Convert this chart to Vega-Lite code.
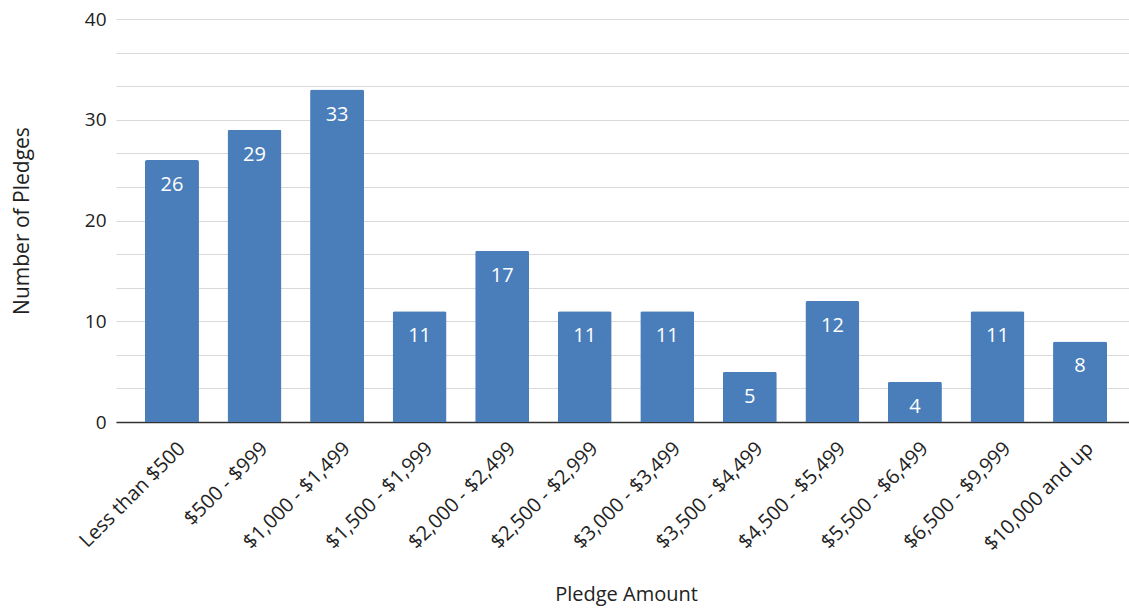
{
  "$schema": "https://vega.github.io/schema/vega-lite/v6.json",
  "width": 1020,
  "height": 403,
  "autosize": "none",
  "padding": {"left": 116, "top": 19, "right": 0, "bottom": 189},
  "background": "white",
  "config": {
    "view": {"stroke": null},
    "font": "Open Sans"
  },
  "data": {
    "values": [
      {"amount": "Less than $500", "count": 26},
      {"amount": "$500 - $999", "count": 29},
      {"amount": "$1,000 - $1,499", "count": 33},
      {"amount": "$1,500 - $1,999", "count": 11},
      {"amount": "$2,000 - $2,499", "count": 17},
      {"amount": "$2,500 - $2,999", "count": 11},
      {"amount": "$3,000 - $3,499", "count": 11},
      {"amount": "$3,500 - $4,499", "count": 5},
      {"amount": "$4,500 - $5,499", "count": 12},
      {"amount": "$5,500 - $6,499", "count": 4},
      {"amount": "$6,500 - $9,999", "count": 11},
      {"amount": "$10,000 and up", "count": 8}
    ]
  },
  "encoding": {
    "x": {
      "field": "amount",
      "type": "nominal",
      "sort": null,
      "scale": {"paddingInner": 0.346, "paddingOuter": 0.351},
      "axis": {
        "title": "Pledge Amount",
        "titleFont": "Open Sans",
        "titleFontSize": 20,
        "titleFontWeight": "normal",
        "titleColor": "#222",
        "titlePadding": 30,
        "labelAngle": -45,
        "labelFontSize": 20,
        "labelColor": "#222",
        "labelFont": "Open Sans",
        "ticks": false,
        "labelPadding": 16,
        "labelOffset": 3,
        "domainColor": "#333",
        "domainWidth": 1.5
      }
    },
    "y": {
      "field": "count",
      "type": "quantitative",
      "scale": {"domain": [0, 40]},
      "axis": {
        "title": "Number of Pledges",
        "titleFont": "Open Sans",
        "titleFontSize": 21,
        "titleFontWeight": "normal",
        "titleColor": "#222",
        "titlePadding": 52,
        "values": [0, 3.3333, 6.6667, 10, 13.3333, 16.6667, 20, 23.3333, 26.6667, 30, 33.3333, 36.6667, 40],
        "labelExpr": "datum.value % 10 === 0 ? datum.label : ''",
        "labelFontSize": 19,
        "labelColor": "#222",
        "labelFont": "Open Sans",
        "labelPadding": 10,
        "ticks": false,
        "domain": false,
        "gridColor": "#d9d9d9",
        "gridWidth": 1.2
      }
    }
  },
  "layer": [
    {
      "mark": {"type": "bar", "color": "#4a7ebb", "cornerRadiusTopLeft": 2, "cornerRadiusTopRight": 2}
    },
    {
      "mark": {"type": "text", "color": "white", "fontSize": 20, "baseline": "middle", "dy": 25, "font": "Open Sans"},
      "encoding": {"text": {"field": "count", "type": "quantitative"}}
    }
  ]
}
